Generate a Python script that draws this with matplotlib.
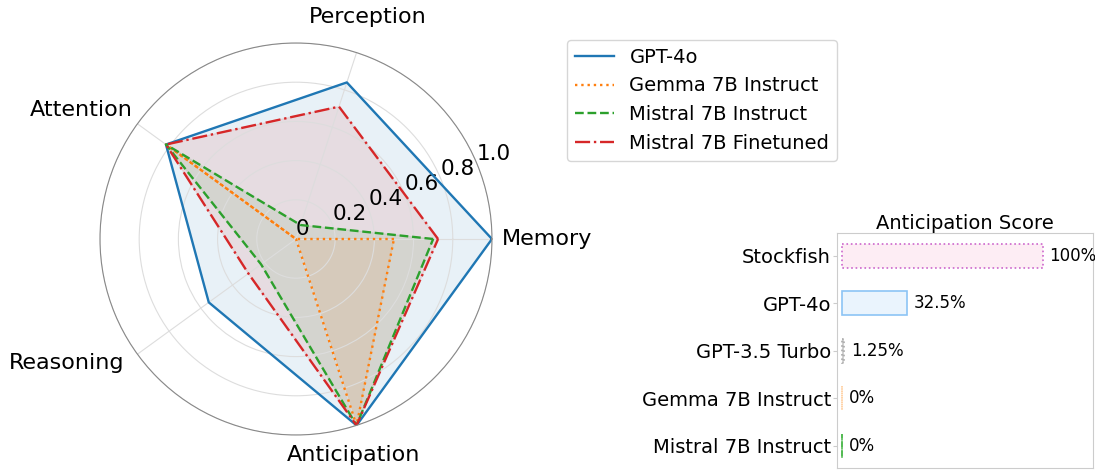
import numpy as np
import matplotlib
matplotlib.use("Agg")
import matplotlib.pyplot as plt

categories = ["Memory", "Perception", "Attention", "Reasoning", "Anticipation"]
models = ["GPT-4o", "Gemma 7B Instruct", "Mistral 7B Instruct", "Mistral 7B Finetuned"]
gpt4o = [1.0, 0.84, 0.82, 0.55, 1.0]
gemma = [0.5, 0.0, 0.82, 0.0, 1.0]
mistral = [0.7, 0.075, 0.82, 0.22, 1.0]
mistral_ft = [0.725, 0.71, 0.82, 0.3, 1.0]

bar_names = ["Stockfish", "GPT-4o", "GPT-3.5 Turbo", "Gemma 7B Instruct", "Mistral 7B Instruct"]
bar_scores = [100, 32.5, 1.25, 0, 0]
bar_labels = ["100%", "32.5%", "1.25%", "0%", "0%"]

fig = plt.figure(figsize=(10.95, 4.7), dpi=100)

# radar
ax = fig.add_axes([0.0913, 0.0745, 0.358, 0.834], projection="polar")
angles = np.linspace(0, 2 * np.pi, len(categories), endpoint=False)
angles_c = np.concatenate([angles, angles[:1]])

styles = [
    ("tab:blue", "-"),
    ("tab:orange", ":"),
    ("tab:green", "--"),
    ("tab:red", "-."),
]
for vals, name, (c, ls) in zip([gpt4o, gemma, mistral, mistral_ft], models, styles):
    v = np.concatenate([vals, vals[:1]])
    ax.plot(angles_c, v, color=c, linestyle=ls, linewidth=1.7, label=name)
    ax.fill(angles_c, v, color=c, alpha=0.1)

ax.set_ylim(0, 1)
ax.set_yticks([0, 0.2, 0.4, 0.6, 0.8, 1.0])
ax.set_yticklabels(["0", "0.2", "0.4", "0.6", "0.8", "1.0"], fontsize=15.5)
ax.set_xticks(angles)
ax.set_xticklabels([])
# category labels, anchored on the side facing the circle
label_pos = [(1.05, "left", "center", 0), (1.19, "center", "center", 0),
             (1.03, "right", "bottom", 0), (1.08, "right", "center", 0),
             (1.16, "center", "center", -9)]
for a, name, (r, ha, va, dx) in zip(angles, categories, label_pos):
    ax.annotate(name, (a, r), xytext=(dx, 0), textcoords="offset points",
                ha=ha, va=va, fontsize=16, annotation_clip=False)
ax.grid(color="#dddddd", linewidth=0.8)
ax.spines["polar"].set_color("#888888")
ax.spines["polar"].set_linewidth(0.8)

fig.legend(
    loc="upper left",
    bbox_to_anchor=(0.518, 0.915),
    borderaxespad=0,
    fontsize=14,
    handlelength=2,
)

# bars
ax2 = fig.add_axes([0.764, 0.0036, 0.234, 0.5])
faces = ["#fdedf4", "#eaf4fd", "#d0d0d0", "#fff0e0", "#e0f0e0"]
edges = ["#cc66cc", "#8cc4f5", "#aaaaaa", "#ffcc99", "#55bb55"]
lstyles = [":", "-", ":", ":", "--"]
ypos = np.arange(len(bar_names))
bars = ax2.barh(ypos, bar_scores, height=0.5, color=faces, edgecolor=edges, linewidth=1.2)
for b, ls in zip(bars, lstyles):
    b.set_linestyle(ls)
ax2.bar_label(bars, labels=bar_labels, padding=5, fontsize=12)
ax2.set_yticks(ypos)
ax2.set_yticklabels(bar_names, fontsize=14)
ax2.invert_yaxis()
ax2.set_xlim(-2.5, 125)
ax2.set_xticks([])
ax2.set_title("Anticipation Score", fontsize=14, pad=3)
for s in ax2.spines.values():
    s.set_color("#cccccc")
ax2.tick_params(axis="y", color="#cccccc", length=3, pad=1)

plt.savefig("out.png", dpi=100)
